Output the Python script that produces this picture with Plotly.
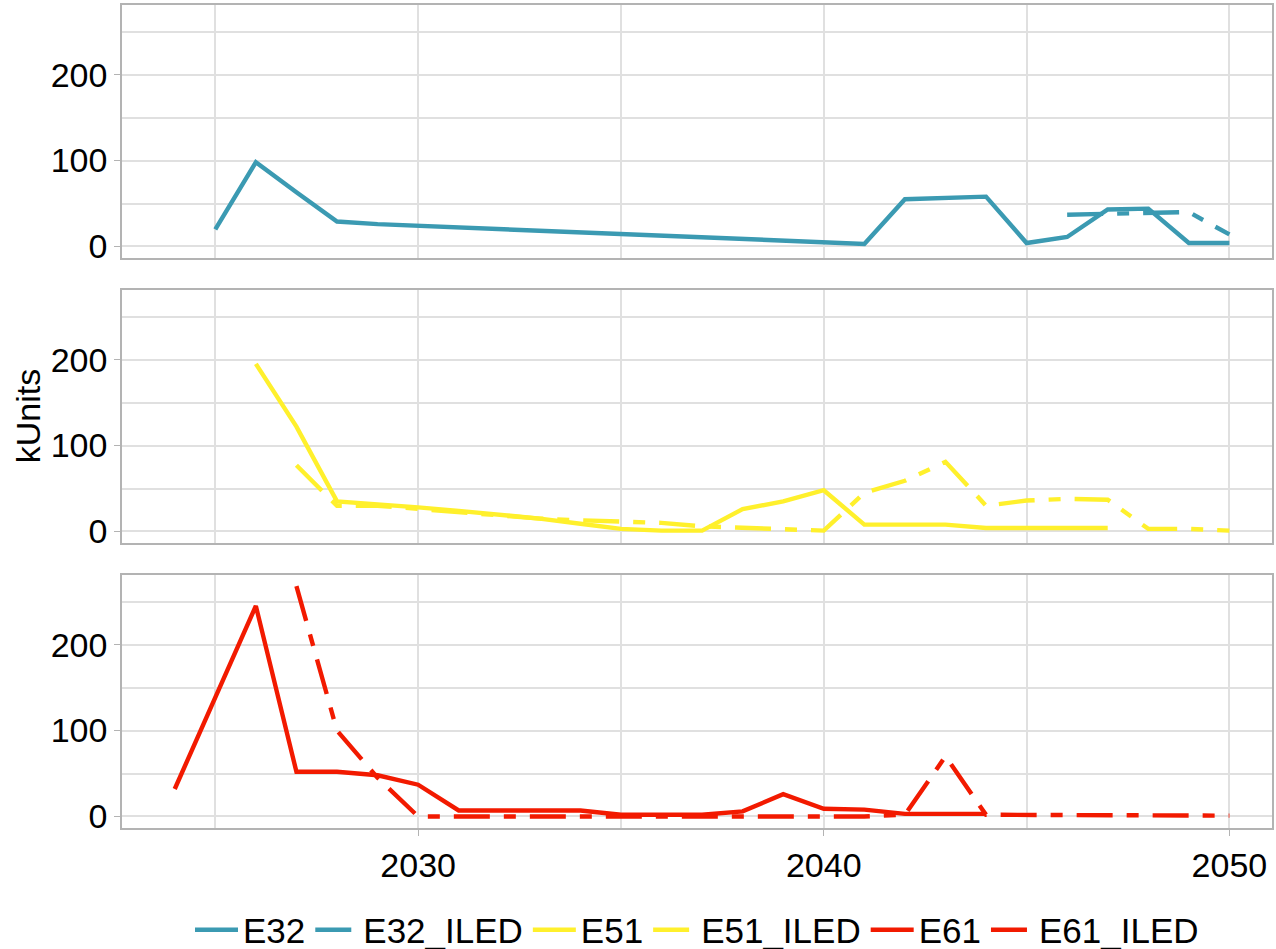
import plotly.graph_objects as go
from plotly.subplots import make_subplots

# data (kUnits per year)
e32_years = list(range(2025, 2051))
e32 = [20, 98, 63, 29, 26, 24, 22, 20, 18, 16, 14, 12, 10, 8, 6, 4, 3, 55, 56, 58, 4, 11, 43, 44, 4, 4]
e32_iled_years = list(range(2046, 2051))
e32_iled = [37, 38, 39, 40, 14]

e51_years = list(range(2026, 2048))
e51 = [195, 122, 35, 32, 28, 24, 20, 15, 9, 3, 1, 1, 26, 35, 48, 8, 8, 8, 4, 4, 4, 4]
e51_iled_years = list(range(2027, 2051))
e51_iled = [77, 30, 30, 26, 22, 19, 15, 13, 11, 10, 6, 4, 2, 1, 45, 59, 81, 30, 36, 38, 37, 3, 3, 1]

e61_years = list(range(2024, 2045))
e61 = [32, 137, 245, 52, 52, 48, 37, 7, 7, 7, 7, 2, 2, 2, 6, 26, 9, 8, 3, 3, 3]
e61_iled_years = list(range(2027, 2051))
e61_iled = [268, 100, 45, 0, 0, 0, 0, 0, 0, 0, 0, 0, 0, 0, 0, 2, 70, 2, 2, 2, 2, 1, 1, 1]

# colours (Zissou-like palette)
teal = "#3B9AB2"
yellow = "#FFF02C"
red = "#F21A00"
twodash = "36px,14px,12px,14px"

fig = make_subplots(rows=3, cols=1, shared_xaxes=True, vertical_spacing=0.0389)

series = [
    ("E32", e32_years, e32, teal, "solid", 1),
    ("E32_ILED", e32_iled_years, e32_iled, teal, twodash, 1),
    ("E51", e51_years, e51, yellow, "solid", 2),
    ("E51_ILED", e51_iled_years, e51_iled, yellow, twodash, 2),
    ("E61", e61_years, e61, red, "solid", 3),
    ("E61_ILED", e61_iled_years, e61_iled, red, twodash, 3),
]
for name, xs, ys, col, dash, row in series:
    fig.add_trace(go.Scatter(x=xs, y=ys, name=name, mode="lines",
                             line=dict(color=col, width=4.4, dash=dash)),
                  row=row, col=1)

grid = "#E0E0E0"
border = "#B3B3B3"
fsize = 34
for r in [1, 2, 3]:
    fig.update_yaxes(range=[-13.4, 281], tickvals=[0, 100, 200], showgrid=True,
                     gridcolor=grid, gridwidth=1.5, zeroline=False, automargin=False,
                     minor=dict(dtick=50, tick0=0, showgrid=True, gridcolor=grid, gridwidth=1.5),
                     ticks="outside", ticklen=6, tickcolor=border, tickwidth=1.3,
                     showline=True, mirror=True, linecolor=border, linewidth=1.5,
                     tickfont=dict(size=fsize, color="black"), row=r, col=1)
    fig.update_xaxes(range=[2022.7, 2051.05], tickvals=[2030, 2040, 2050], showgrid=True,
                     gridcolor=grid, gridwidth=1.5, zeroline=False, automargin=False,
                     minor=dict(dtick=5, tick0=2025, showgrid=True, gridcolor=grid, gridwidth=1.5),
                     ticks="outside" if r == 3 else "", ticklen=6, tickcolor=border, tickwidth=1.3,
                     showticklabels=(r == 3),
                     showline=True, mirror=True, linecolor=border, linewidth=1.5,
                     tickfont=dict(size=fsize, color="black"), row=r, col=1)

fig.add_annotation(text="kUnits", xref="paper", yref="paper", x=-0.082, y=0.5,
                   xanchor="center", yanchor="middle", textangle=-90, showarrow=False,
                   font=dict(size=fsize, color="black"))

fig.update_layout(
    width=1276, height=949,
    margin=dict(l=122, r=4, t=5, b=121),
    plot_bgcolor="white", paper_bgcolor="white",
    font=dict(family="Liberation Sans, Arial, sans-serif", color="black"),
    showlegend=True,
    legend=dict(orientation="h", x=0.5, xanchor="center", yref="container", y=0.02,
                yanchor="middle", font=dict(size=35), itemwidth=43, tracegroupgap=0),
)

# drop the page's default body margin so the figure sits at the top-left corner
fig.write_html("out.html", config={"displayModeBar": False},
               post_script="document.body.style.margin='0';")
